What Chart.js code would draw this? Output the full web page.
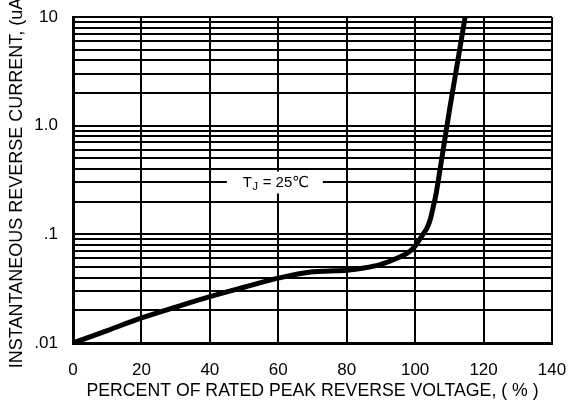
<!DOCTYPE html>
<html>
<head>
<meta charset="utf-8">
<script src="https://cdn.jsdelivr.net/npm/chart.js@4.4.1/dist/chart.umd.min.js"></script>
<style>
  html, body { margin: 0; padding: 0; background: #fff; }
  #wrap { width: 578px; height: 403px; }
</style>
</head>
<body>
<div id="wrap"><canvas id="curveChart"></canvas></div>
<script>
// Curve
const voltagePct = [0, 10, 20, 30, 40, 50, 60, 70, 75, 80, 85, 90, 95, 98, 100, 102, 103.5, 104.5, 105.3, 106, 107.3, 108.5, 110.2, 112.5, 114.6];
const reverseCurrent = [0.01, 0.013, 0.017, 0.0214, 0.0267, 0.0326, 0.0395, 0.0452, 0.046, 0.0468, 0.049, 0.053, 0.061, 0.068, 0.078, 0.097, 0.115, 0.14, 0.18, 0.225, 0.4, 0.69, 1.5, 4.0, 10];

const xTicks = [0, 20, 40, 60, 80, 100, 120, 140];
const yTicks = [0.01, 0.02, 0.03, 0.04, 0.05, 0.06, 0.07, 0.08, 0.09,
  0.1, 0.2, 0.3, 0.4, 0.5, 0.6, 0.7, 0.8, 0.9,
  1, 2, 3, 4, 5, 6, 7, 8, 9, 10];
const yMajor = [0.01, 0.1, 1, 10];
const yMajorLabels = ['.01', '.1', '1.0', '10'];

const FONT = '"Liberation Sans", Arial, "DejaVu Sans", sans-serif';

// T_J = 25C note with white background
const tjLabel = {
  id: 'tjLabel',
  afterDatasetsDraw(chart) {
    const { ctx, scales } = chart;
    const cx = scales.x.getPixelForValue(59);
    const cy = scales.y.getPixelForValue(0.3);
    ctx.save();
    ctx.fillStyle = '#fff';
    ctx.fillRect(cx - 48, cy - 11, 96, 22);
    ctx.fillStyle = '#000';
    ctx.textBaseline = 'middle';
    ctx.textAlign = 'left';
    ctx.font = '15px ' + FONT;
    let x = cx - 32;
    ctx.fillText('T', x, cy);
    x += ctx.measureText('T').width;
    ctx.font = '11px ' + FONT;
    ctx.fillText('J', x + 0.5, cy + 4);
    x += ctx.measureText('J').width + 1;
    ctx.font = '15px ' + FONT;
    ctx.fillText(' = 25\u2103', x, cy);
    ctx.restore();
  }
};

const ctx = document.getElementById('curveChart').getContext('2d');
new Chart(ctx, {
  type: 'line',
  data: {
    datasets: [{
      data: voltagePct.map((v, i) => ({ x: v, y: reverseCurrent[i] })),
      borderColor: '#000',
      borderWidth: 5,
      pointRadius: 0,
      cubicInterpolationMode: 'monotone',
      fill: false,
    }],
  },
  plugins: [tjLabel],
  options: {
    responsive: true,
    maintainAspectRatio: false,
    animation: false,
    layout: { padding: { top: 17, right: 26, left: 0, bottom: 0 } },
    plugins: {
      legend: { display: false },
      tooltip: { enabled: false },
    },
    scales: {
      x: {
        type: 'linear',
        min: 0,
        max: 140,
        afterBuildTicks: (s) => { s.ticks = xTicks.map((v) => ({ value: v })); },
        afterFit: (s) => {
          s.height = 60;
          s.paddingLeft = 0;
          s.paddingRight = 0;
        },
        grid: { color: '#000', lineWidth: 2, drawTicks: false },
        border: { color: '#000', width: 3 },
        ticks: {
          color: '#000',
          padding: 17,
          maxRotation: 0,
          font: { family: FONT, size: 17 },
        },
        title: {
          display: true,
          text: 'PERCENT OF RATED PEAK REVERSE VOLTAGE, ( % )',
          color: '#000',
          padding: { top: 0, bottom: 1 },
          font: { family: FONT, size: 17.7 },
        },
      },
      y: {
        type: 'logarithmic',
        min: 0.01,
        max: 10,
        afterBuildTicks: (s) => { s.ticks = yTicks.map((v) => ({ value: v })); },
        afterFit: (s) => {
          s.width = 73;
          s.paddingTop = 0;
          s.paddingBottom = 0;
        },
        grid: { color: '#000', lineWidth: 2, drawTicks: false },
        border: { color: '#000', width: 3 },
        ticks: {
          color: '#000',
          padding: 15,
          autoSkip: false,
          font: { family: FONT, size: 17 },
          callback: (v) => {
            const i = yMajor.findIndex((m) => Math.abs(m - v) < m * 1e-6);
            return i >= 0 ? yMajorLabels[i] : '';
          },
        },
        title: {
          display: true,
          text: 'INSTANTANEOUS REVERSE CURRENT, (uA)',
          color: '#000',
          padding: { top: 6, bottom: 0 },
          font: { family: FONT, size: 18 },
        },
      },
    },
  },
});
</script>
</body>
</html>
